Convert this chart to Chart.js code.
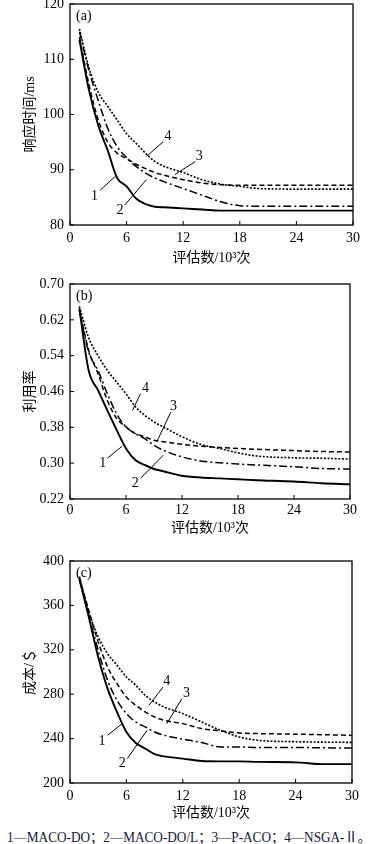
<!DOCTYPE html>
<html>
<head>
<meta charset="utf-8">
<script src="https://cdn.jsdelivr.net/npm/chart.js@4"></script>
<style>
  body { margin: 0; background: #fff; width: 377px; height: 844px; position: relative; overflow: hidden; }
  .box { position: absolute; left: 0; width: 377px; }
  #cap { position: absolute; left: 7px; top: 826px; white-space: nowrap; transform-origin: 0 0;
         font: 14px "Liberation Serif", "Noto Sans CJK SC", serif; color: #16163a; }
</style>
</head>
<body>
<div class="box" style="top:0;height:270px"><canvas id="chartA" width="377" height="270"></canvas></div>
<div class="box" style="top:270px;height:280px"><canvas id="chartB" width="377" height="280"></canvas></div>
<div class="box" style="top:550px;height:275px"><canvas id="chartC" width="377" height="275"></canvas></div>
<span id="cap">1—MACO-DO；2—MACO-DO/L；3—P-ACO；4—NSGA-Ⅱ。</span>

<script>
// evaluaciones (10^3)
const evals = [1, 2, 3, 4, 5, 6, 7, 8, 9, 10, 12, 14, 16, 18, 20, 24, 27, 30];
const xTicks = [0, 6, 12, 18, 24, 30];
const seriesNames = ['MACO-DO', 'MACO-DO/L', 'P-ACO', 'NSGA-II'];

// (a) 响应时间/ms
const respMacoDo  = [113.5, 104.5, 98, 93.5, 88.5, 87, 84.8, 83.8, 83.3, 83.2, 83.0, 82.8, 82.6, 82.6, 82.6, 82.6, 82.6, 82.6];
const respMacoDoL = [115, 108, 102.5, 97.5, 94.2, 92.2, 90.6, 89.4, 88.5, 87.8, 86.6, 85.4, 84.2, 83.5, 83.4, 83.4, 83.4, 83.4];
const respPAco    = [114, 105.5, 99, 95, 93, 92, 91, 90.2, 89.5, 89, 88.2, 87.6, 87.3, 87.2, 87.2, 87.2, 87.2, 87.2];
const respNsga    = [115.5, 108.5, 104, 101.5, 99, 96.5, 94.8, 93, 91.5, 90.6, 89.5, 88.2, 87.4, 87, 86.6, 86.5, 86.5, 86.5];
const respTicks   = [80, 90, 100, 110, 120];

// (b) 利用率
const utilMacoDo  = [0.645, 0.507, 0.463, 0.418, 0.374, 0.333, 0.307, 0.296, 0.287, 0.282, 0.272, 0.268, 0.266, 0.264, 0.262, 0.259, 0.255, 0.253];
const utilMacoDoL = [0.64, 0.548, 0.507, 0.455, 0.41, 0.381, 0.366, 0.355, 0.34, 0.329, 0.314, 0.305, 0.301, 0.298, 0.296, 0.292, 0.288, 0.287];
const utilPAco    = [0.645, 0.552, 0.50, 0.44, 0.40, 0.381, 0.366, 0.359, 0.351, 0.348, 0.342, 0.338, 0.335, 0.333, 0.331, 0.328, 0.326, 0.325];
const utilNsga    = [0.65, 0.58, 0.54, 0.507, 0.481, 0.455, 0.426, 0.407, 0.392, 0.381, 0.359, 0.342, 0.333, 0.323, 0.316, 0.312, 0.311, 0.309];
const utilTicks   = [0.22, 0.30, 0.38, 0.46, 0.54, 0.62, 0.70];

// (c) 成本/＄
const costMacoDo  = [384, 349.5, 313.5, 285, 264, 246, 236, 231, 226, 224, 222, 219.8, 219.5, 219.5, 219, 218.6, 217, 217];
const costMacoDoL = [383, 351, 319.5, 292.5, 274.5, 262.5, 255, 250.5, 246, 243, 239.5, 236.5, 232.5, 232.5, 232, 232, 231.7, 231.5];
const costPAco    = [385, 355.5, 327, 304.5, 289.5, 277.5, 270, 264, 259.5, 256.5, 253.5, 249, 247, 245, 244.5, 244, 243.5, 243];
const costNsga    = [386, 354, 331.5, 316.5, 306, 295.5, 288, 279, 273, 268.5, 262.5, 255, 247.5, 241.5, 238.5, 237.2, 236.8, 236.6];
const costTicks   = [200, 240, 280, 320, 360, 400];

const serif = '"Liberation Serif", "Noto Sans CJK SC", serif';
const estilos = [
  { dash: [], w: 1.9 },
  { dash: [8, 3, 2, 3], w: 1.5 },
  { dash: [5, 3], w: 1.5 },
  { dash: [2, 1.6], w: 1.6 }
];

// marco, marcas interiores, etiqueta del panel y numeración de curvas
const marcoPlugin = {
  id: 'marco',
  afterDatasetsDraw(chart, args, opts) {
    const { ctx, chartArea: a, scales: { x, y } } = chart;
    ctx.save();
    ctx.strokeStyle = '#000';
    ctx.lineWidth = 1.3;
    ctx.setLineDash([]);
    ctx.strokeRect(a.left, a.top, a.right - a.left, a.bottom - a.top);
    ctx.lineWidth = 1;
    ctx.beginPath();
    x.ticks.forEach(t => {
      const px = x.getPixelForValue(t.value);
      ctx.moveTo(px, a.bottom); ctx.lineTo(px, a.bottom - 4);
    });
    y.ticks.forEach(t => {
      const py = y.getPixelForValue(t.value);
      ctx.moveTo(a.left, py); ctx.lineTo(a.left + 4, py);
    });
    ctx.stroke();

    ctx.fillStyle = '#000';
    ctx.font = '14px ' + serif;
    ctx.textAlign = 'left';
    ctx.textBaseline = 'middle';
    ctx.fillText(opts.panel, a.left + 6, a.top + 12);

    ctx.textAlign = 'center';
    opts.notas.forEach(n => {
      ctx.beginPath();
      ctx.moveTo(x.getPixelForValue(n.x1), y.getPixelForValue(n.y1));
      ctx.lineTo(x.getPixelForValue(n.x2), y.getPixelForValue(n.y2));
      ctx.stroke();
      ctx.fillText(n.t, x.getPixelForValue(n.tx), y.getPixelForValue(n.ty));
    });
    ctx.restore();
  }
};

function crearGrafico(id, cfg) {
  const ctx = document.getElementById(id).getContext('2d');
  return new Chart(ctx, {
    type: 'line',
    data: {
      datasets: cfg.series.map((s, i) => ({
        label: seriesNames[i],
        data: evals.map((e, k) => ({ x: e, y: s[k] })),
        borderColor: '#000',
        borderWidth: estilos[i].w,
        borderDash: estilos[i].dash,
        pointRadius: 0,
        fill: false,
        cubicInterpolationMode: 'monotone'
      }))
    },
    options: {
      responsive: false,
      animation: false,
      layout: { padding: { top: cfg.top, right: cfg.right, bottom: 0, left: 0 } },
      plugins: {
        legend: { display: false },
        tooltip: { enabled: false },
        marco: { panel: cfg.panel, notas: cfg.notas }
      },
      scales: {
        x: {
          type: 'linear',
          min: 0, max: 30,
          afterBuildTicks: sc => { sc.ticks = xTicks.map(v => ({ value: v })); },
          afterFit: sc => { sc.height = cfg.xHeight; sc.paddingLeft = 0; sc.paddingRight = 0; },
          grid: { display: false, drawTicks: false },
          border: { display: false },
          ticks: { color: '#000', padding: cfg.xTickPad, font: { family: serif, size: 14 } },
          title: { display: true, text: '评估数/10³次', color: '#000',
                   padding: { top: 0, bottom: cfg.xTitlePad }, font: { family: serif, size: 14 } }
        },
        y: {
          min: cfg.yTicks[0], max: cfg.yTicks[cfg.yTicks.length - 1],
          afterBuildTicks: sc => { sc.ticks = cfg.yTicks.map(v => ({ value: v })); },
          afterFit: sc => { sc.width = 70; sc.paddingTop = 0; sc.paddingBottom = 0; },
          grid: { display: false, drawTicks: false },
          border: { display: false },
          ticks: { color: '#000', padding: 6, font: { family: serif, size: 14 },
                   callback: v => cfg.fmt(v) },
          title: { display: true, text: cfg.yTitle, color: '#000',
                   padding: { top: 22, bottom: 0 }, font: { family: serif, size: 14 } }
        }
      }
    },
    plugins: [marcoPlugin]
  });
}

crearGrafico('chartA', {
  series: [respMacoDo, respMacoDoL, respPAco, respNsga],
  yTicks: respTicks, fmt: v => String(v), yTitle: '响应时间/ms', panel: '(a)',
  top: 4, right: 24, xHeight: 45, xTickPad: 5, xTitlePad: 3.6,
  notas: [
    { t: '1', tx: 2.6, ty: 85.1, x1: 3.2, y1: 86.3, x2: 4.8, y2: 88.8 },
    { t: '2', tx: 5.3, ty: 82.6, x1: 5.8, y1: 83.6, x2: 8.1, y2: 88.2 },
    { t: '3', tx: 13.7, ty: 92.4, x1: 13.3, y1: 91.5, x2: 11.1, y2: 89.1 },
    { t: '4', tx: 10.4, ty: 96.0, x1: 9.9, y1: 95.1, x2: 8.1, y2: 92.4 }
  ]
});

crearGrafico('chartB', {
  series: [utilMacoDo, utilMacoDoL, utilPAco, utilNsga],
  yTicks: utilTicks, fmt: v => v.toFixed(2), yTitle: '利用率', panel: '(b)',
  top: 14, right: 27, xHeight: 51, xTickPad: 3, xTitlePad: 13.6,
  notas: [
    { t: '1', tx: 3.5, ty: 0.300, x1: 4.0, y1: 0.311, x2: 5.6, y2: 0.338 },
    { t: '2', tx: 7.0, ty: 0.256, x1: 7.55, y1: 0.266, x2: 10.0, y2: 0.318 },
    { t: '3', tx: 11.1, ty: 0.426, x1: 10.8, y1: 0.414, x2: 9.3, y2: 0.348 },
    { t: '4', tx: 8.1, ty: 0.466, x1: 7.55, y1: 0.455, x2: 6.7, y2: 0.418 }
  ]
});

crearGrafico('chartC', {
  series: [costMacoDo, costMacoDoL, costPAco, costNsga],
  yTicks: costTicks, fmt: v => String(v), yTitle: '成本/＄', panel: '(c)',
  top: 11, right: 25, xHeight: 42, xTickPad: 5, xTitlePad: 3.6,
  notas: [
    { t: '1', tx: 3.4, ty: 237.8, x1: 4.0, y1: 243, x2: 5.55, y2: 253.5 },
    { t: '2', tx: 5.55, ty: 217.4, x1: 6.1, y1: 222, x2: 8.2, y2: 247.5 },
    { t: '3', tx: 12.4, ty: 281, x1: 11.9, y1: 276, x2: 10.3, y2: 253.5 },
    { t: '4', tx: 10.3, ty: 292, x1: 9.9, y1: 286.5, x2: 8.4, y2: 270 }
  ]
});

// ajustar el ancho del pie al de la figura
const cap = document.getElementById('cap');
const anchoCap = cap.getBoundingClientRect().width;
cap.style.transform = 'scaleX(' + (364 / anchoCap) + ')';
</script>
</body>
</html>
